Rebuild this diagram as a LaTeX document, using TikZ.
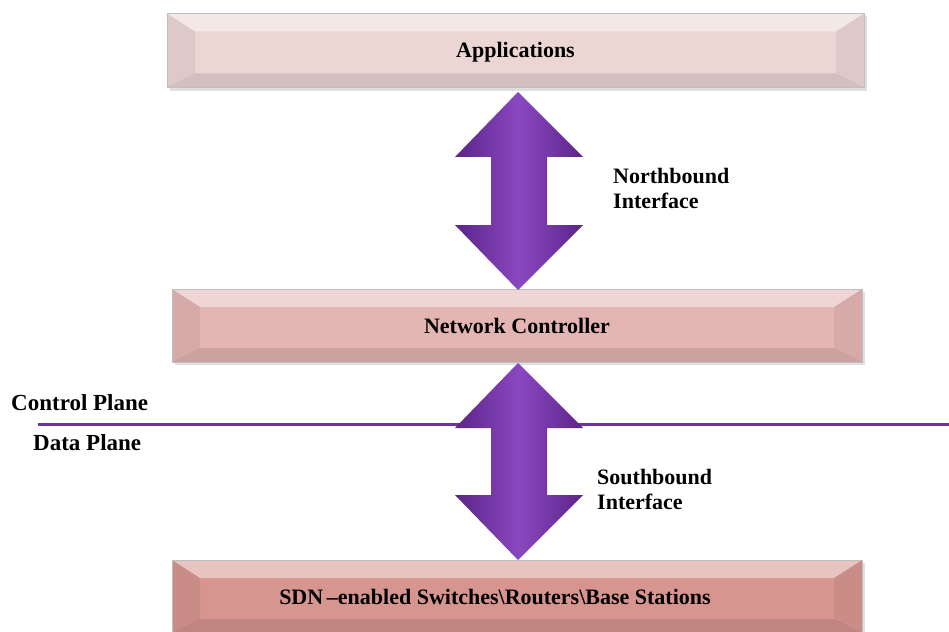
\documentclass[tikz,border=0pt]{standalone}
\usepackage{fontspec}
\setmainfont{Liberation Serif}
\usetikzlibrary{calc}
\definecolor{appc}{HTML}{EBD6D4}
\definecolor{ctrlc}{HTML}{E3B5B3}
\definecolor{devc}{HTML}{D6958F}
\definecolor{purp}{HTML}{7030A0}
\definecolor{purpd}{HTML}{5C2488}
\definecolor{purpl}{HTML}{8A48C0}
\tikzset{
  layerbox/.style={minimum height=74pt, inner sep=0pt, text height=16pt, text depth=1pt,
    font=\bfseries\fontsize{22}{25}\selectfont,
    path picture={
      \fill[white,opacity=0.45] (path picture bounding box.north west) -- (path picture bounding box.north east)
        -- ([xshift=-28pt,yshift=-18pt]path picture bounding box.north east) -- ([xshift=28pt,yshift=-18pt]path picture bounding box.north west) -- cycle;
      \fill[black,opacity=0.06] (path picture bounding box.north west) -- ([xshift=28pt,yshift=-18pt]path picture bounding box.north west)
        -- ([xshift=28pt,yshift=14pt]path picture bounding box.south west) -- (path picture bounding box.south west) -- cycle;
      \fill[black,opacity=0.06] (path picture bounding box.north east) -- ([xshift=-28pt,yshift=-18pt]path picture bounding box.north east)
        -- ([xshift=-28pt,yshift=14pt]path picture bounding box.south east) -- (path picture bounding box.south east) -- cycle;
      \fill[black,opacity=0.10] (path picture bounding box.south west) -- ([xshift=28pt,yshift=14pt]path picture bounding box.south west)
        -- ([xshift=-28pt,yshift=14pt]path picture bounding box.south east) -- (path picture bounding box.south east) -- cycle;
    },
    draw=black!25, line width=0.6pt},
  shadowbox/.style={fill=black!25, opacity=0.5},
  lbl/.style={font=\bfseries\fontsize{22}{25}\selectfont, align=left, anchor=base west, inner sep=0pt},
  dblarrow/.style={left color=purpd, right color=purpd, middle color=purpl, draw=none},
  planeline/.style={draw=purp, line width=3pt}
}
\begin{document}
\begin{tikzpicture}[x=1pt,y=-1pt]
\useasboundingbox (0,0) rectangle (949,631);
% shadows
\fill[shadowbox] (170,16) rectangle (867,91);
\fill[shadowbox] (175,292) rectangle (865,365);
\fill[shadowbox] (175,563) rectangle (865,640);
% boxes
\node[layerbox, fill=appc, minimum width=697pt] (app) at (515.5,50.5) {Applications};
\node[layerbox, fill=ctrlc, minimum width=690pt, minimum height=73pt] (ctrl) at (517,325.5) {Network Controller};
\node[layerbox, fill=devc, minimum width=690pt, minimum height=73pt] (dev) at (517,596.5) {};
\node[lbl, anchor=base] (devtext) at (495,604) {SDN\,--enabled Switches\textbackslash Routers\textbackslash Base Stations};
% plane line
\coordinate (lineL) at (38,424);
\coordinate (lineR) at (949,424);
\draw[planeline] (lineL) -- (lineR);
\node[lbl, font=\bfseries\fontsize{23}{25}\selectfont] (cp) at (11,410) {Control Plane};
\node[lbl, font=\bfseries\fontsize{23}{25}\selectfont] (dp) at (33,450) {Data Plane};
% northbound arrow
\path[dblarrow] (518,92) -- (583,157) -- (547,157) -- (547,225) -- (583,225) -- (518,290)
  -- (455,225) -- (491,225) -- (491,157) -- (455,157) -- cycle;
% southbound arrow
\path[dblarrow] (518,363) -- (583,428) -- (547,428) -- (547,495) -- (583,495) -- (518,560)
  -- (455,495) -- (491,495) -- (491,428) -- (455,428) -- cycle;
% labels
\node[lbl] (nb) at (613,183) {Northbound};
\node[lbl] (nb2) at (613,208) {Interface};
\node[lbl] (sb) at (597,484) {Southbound};
\node[lbl] (sb2) at (597,509) {Interface};
\end{tikzpicture}
\end{document}
